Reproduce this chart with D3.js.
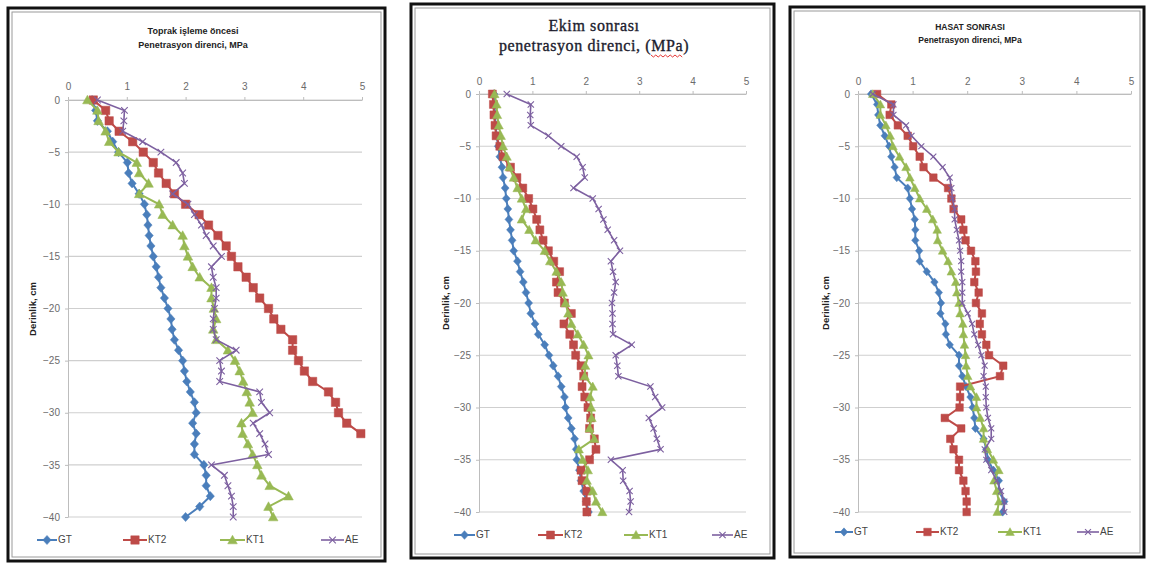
<!DOCTYPE html>
<html><head><meta charset="utf-8">
<script src="https://cdn.jsdelivr.net/npm/d3@7"></script>
<style>body{margin:0;background:#fff}svg{display:block}</style>
</head><body>
<svg id="c" width="1149" height="565"></svg>
<script>
// ---------- DATA ----------
const depths = [0,-1,-2,-3,-4,-5,-6,-7,-8,-9,-10,-11,-12,-13,-14,-15,-16,-17,-18,-19,-20,
  -21,-22,-23,-24,-25,-26,-27,-28,-29,-30,-31,-32,-33,-34,-35,-36,-37,-38,-39,-40];
const xTicks = [0,1,2,3,4,5];
const yTicks = [0,-5,-10,-15,-20,-25,-30,-35,-40];
const seriesNames = ["GT","KT2","KT1","AE"];
const yAxisTitle = "Derinlik, cm";

// Panel 1: Toprak işleme öncesi
const p1Title = ["Toprak işleme öncesi","Penetrasyon direnci, MPa"];
const p1GT  = [0.41,0.47,0.50,0.67,0.76,0.86,1.01,1.03,1.09,1.21,1.30,1.34,1.36,1.38,1.41,1.45,1.50,1.54,1.58,1.64,
  1.70,1.75,1.77,1.81,1.88,1.95,1.98,2.02,2.08,2.15,2.18,2.12,2.18,2.15,2.15,2.31,2.35,2.35,2.42,2.24,2.00];
const p1KT2 = [0.43,0.64,0.70,0.87,1.10,1.28,1.45,1.54,1.67,1.81,2.00,2.23,2.39,2.55,2.69,2.78,2.89,3.03,3.15,3.26,
  3.41,3.50,3.62,3.82,3.82,3.92,4.02,4.16,4.43,4.55,4.60,4.74,4.98];
const p1KT1 = [0.33,0.50,0.52,0.64,0.70,0.86,1.17,1.21,1.37,1.21,1.55,1.61,1.78,1.95,1.98,2.04,2.12,2.24,2.44,2.44,
  2.48,2.52,2.47,2.52,2.72,2.84,2.92,2.98,3.04,3.09,3.14,2.95,2.97,3.06,3.14,3.22,3.29,3.43,3.75,3.41,3.49];
const p1AE  = [0.50,0.96,0.95,0.93,1.27,1.58,1.84,1.95,1.98,1.78,2.04,2.15,2.27,2.35,2.47,2.61,2.44,2.47,2.52,2.52,
  2.49,2.47,2.47,2.52,2.86,2.58,2.61,2.58,3.26,3.29,3.43,3.15,3.26,3.35,3.41,2.44,2.66,2.72,2.78,2.81,2.81];

// Panel 2: Ekim sonrası
const p2Title = ["Ekim sonrası","penetrasyon direnci, (MPa)"];
const p2GT  = [0.28,0.29,0.30,0.31,0.33,0.36,0.39,0.43,0.45,0.49,0.51,0.54,0.56,0.59,0.62,0.65,0.72,0.77,0.83,0.88,
  0.93,0.97,1.05,1.11,1.23,1.31,1.39,1.48,1.54,1.60,1.62,1.67,1.73,1.79,1.82,1.83,1.88,1.91,1.96,2.01,2.05];
const p2KT2 = [0.25,0.27,0.28,0.30,0.32,0.39,0.45,0.59,0.71,0.82,0.93,1.01,1.08,1.14,1.20,1.30,1.40,1.51,1.45,1.48,
  1.60,1.73,1.59,1.70,1.77,1.81,1.91,1.96,1.93,1.98,2.04,2.09,2.07,2.16,2.19,2.07,1.91,1.93,2.02,2.01,2.02];
const p2KT1 = [0.29,0.33,0.34,0.37,0.41,0.45,0.52,0.57,0.65,0.72,0.80,0.88,0.80,0.94,1.06,1.23,1.33,1.45,1.54,1.57,
  1.62,1.67,1.73,1.85,1.96,2.05,1.99,1.98,2.13,2.08,2.10,2.11,2.07,2.16,1.87,1.94,2.04,2.02,2.13,2.19,2.31];
const p2AE  = [0.52,0.97,0.96,0.97,1.30,1.54,1.83,1.94,1.98,1.77,2.13,2.24,2.33,2.41,2.53,2.64,2.47,2.51,2.56,2.53,
  2.49,2.50,2.50,2.51,2.86,2.56,2.59,2.61,3.21,3.30,3.43,3.18,3.27,3.33,3.40,2.47,2.69,2.70,2.82,2.84,2.81];

// Panel 3: Hasat sonrası
const p3Title = ["HASAT SONRASI","Penetrasyon direnci, MPa"];
const p3GT  = [0.24,0.35,0.37,0.41,0.49,0.57,0.61,0.67,0.71,0.91,0.95,0.99,1.04,1.05,1.05,1.12,1.13,1.26,1.40,1.48,
  1.52,1.51,1.60,1.61,1.68,1.85,1.85,1.91,1.98,2.06,2.10,2.13,2.15,2.30,2.35,2.38,2.48,2.58,2.58,2.68,2.65];
const p3KT2 = [0.35,0.61,0.58,0.73,0.91,1.01,1.13,1.20,1.38,1.65,1.71,1.75,1.89,1.93,1.97,2.07,2.15,2.16,2.13,2.21,
  2.16,2.27,2.23,2.27,2.35,2.40,2.66,2.60,1.87,1.87,1.86,1.59,1.89,1.69,1.75,1.85,1.85,1.93,1.97,1.99,1.99];
const p3KT1 = [0.27,0.41,0.41,0.51,0.59,0.64,0.76,0.88,0.95,1.04,1.13,1.26,1.37,1.45,1.46,1.55,1.65,1.71,1.79,1.81,
  1.85,1.87,1.92,1.93,1.95,1.97,1.98,2.01,2.06,2.17,2.17,2.24,2.30,2.30,2.37,2.48,2.58,2.49,2.54,2.58,2.55];
const p3AE  = [0.27,0.65,0.65,0.88,0.98,1.16,1.38,1.55,1.68,1.71,1.73,1.77,1.77,1.81,1.85,1.87,1.89,1.89,1.91,1.91,
  1.91,2.01,2.09,2.13,2.20,2.26,2.32,2.30,2.34,2.34,2.35,2.38,2.44,2.44,2.32,2.35,2.44,2.54,2.62,2.68,2.68];

// ---------- STYLE / LAYOUT ----------
const colors = {GT:"#4a7ebb", KT2:"#be4b48", KT1:"#98b954", AE:"#7d60a0"};
const panels = [
  {frame:[8,8,385,561], x:[68,362], y:[100,517], series:[p1GT,p1KT2,p1KT1,p1AE], title:p1Title,
   titleStyle:"sans", titleY:[34,48], titleX:193, ms:1.0, tickLabY:87, yTitleX:33, yTitleY:309,
   legY:540, legX:[[37,57],[123,147],[220,245],[321,344]]},
  {frame:[411,4,774,558], x:[479,746], y:[94,512], series:[p2GT,p2KT2,p2KT1,p2AE], title:p2Title,
   titleStyle:"serif", titleY:[31,51], titleX:594, ms:0.95, tickLabY:82, yTitleX:446, yTitleY:303,
   legY:535, legX:[[454,475],[538,563],[624,648],[712,733]]},
  {frame:[790,7,1144,557], x:[858,1131], y:[94,512], series:[p3GT,p3KT2,p3KT1,p3AE], title:p3Title,
   titleStyle:"sans", titleY:[30,43], titleX:970, ms:0.9, tickLabY:82, yTitleX:826, yTitleY:303,
   legY:532, legX:[[835,853],[916,939],[998,1022],[1077,1099]]}
];

const svg = d3.select("#c");
const font = "'Liberation Sans', Arial, sans-serif";

function markerPath(name, k){
  if(name==="GT"){const s=4.6*k; return `M0,${-s}L${s*0.9},0L0,${s}L${-s*0.9},0Z`;}
  if(name==="KT2"){const s=4.2*k; return `M${-s},${-s}H${s}V${s}H${-s}Z`;}
  if(name==="KT1"){const s=4.8*k; return `M0,${-s}L${s},${s*0.8}L${-s},${s*0.8}Z`;}
  const s=3.3*k; return `M${-s},${-s}L${s},${s}M${s},${-s}L${-s},${s}`;
}
function drawMarker(g, name, k){
  const p = g.append("path").attr("d", markerPath(name,k));
  if(name==="AE") p.attr("fill","none").attr("stroke",colors.AE).attr("stroke-width",1.1);
  else p.attr("fill",colors[name]).attr("stroke",colors[name]).attr("stroke-width",0.5);
}

panels.forEach(P=>{
  const [fx0,fy0,fx1,fy1]=P.frame;
  svg.append("rect").attr("x",fx0).attr("y",fy0).attr("width",fx1-fx0).attr("height",fy1-fy0)
    .attr("fill","#fff").attr("stroke","#111").attr("stroke-width",3);
  svg.append("rect").attr("x",fx0+4).attr("y",fy0+4).attr("width",fx1-fx0-8).attr("height",fy1-fy0-8)
    .attr("fill","none").attr("stroke","#9a9a9a").attr("stroke-width",1);

  const x = d3.scaleLinear().domain([0,5]).range(P.x);
  const y = d3.scaleLinear().domain([-40,0]).range([P.y[1],P.y[0]]);
  const g = svg.append("g");

  g.append("g").selectAll("line").data(yTicks).join("line")
    .attr("x1",x(0)).attr("x2",x(5)).attr("y1",d=>y(d)).attr("y2",d=>y(d))
    .attr("stroke","#cfcfcf").attr("stroke-width",1.2);

  const ax = g.append("g").attr("transform",`translate(0,${y(0)})`)
    .call(d3.axisTop(x).tickValues(xTicks).tickFormat(d3.format("d")).tickSize(3)
      .tickPadding(P.y[0]-P.tickLabY-6).tickSizeOuter(0));
  ax.select(".domain").attr("stroke","#bdbdbd");
  ax.selectAll(".tick line").attr("stroke","#bdbdbd");
  ax.selectAll("text").attr("fill","#6b6b6b").style("font-family",font).style("font-size","10px");

  const ay = g.append("g").attr("transform",`translate(${x(0)},0)`)
    .call(d3.axisLeft(y).tickValues(yTicks).tickFormat(d3.format("d")).tickSize(3).tickPadding(5).tickSizeOuter(0));
  ay.select(".domain").attr("stroke","#bdbdbd");
  ay.selectAll(".tick line").attr("stroke","#bdbdbd");
  ay.selectAll("text").attr("fill","#6b6b6b").style("font-family",font).style("font-size","10px");

  g.append("text").attr("transform",`translate(${P.yTitleX},${P.yTitleY}) rotate(-90)`)
    .attr("text-anchor","middle").attr("dominant-baseline","middle")
    .style("font-family",font).style("font-size","9.5px").style("font-weight","bold").attr("fill","#222")
    .text(yAxisTitle);

  P.title.forEach((t,i)=>{
    const tx = g.append("text").attr("x",P.titleX).attr("y",P.titleY[i]).attr("text-anchor","middle").text(t);
    if(P.titleStyle==="serif"){
      tx.style("font-family","'Liberation Serif','Times New Roman',serif").style("font-size","16px")
        .style("letter-spacing","0.6px").attr("fill","#1c1c2e").attr("stroke","#1c1c2e").attr("stroke-width",0.35);
    } else {
      tx.style("font-family",font).style("font-size", P===panels[0]?"9px":"8.5px").style("font-weight","bold").attr("fill","#222");
    }
  });
  if(P.titleStyle==="serif"){
    const sx = 651, sy = 55; let d=`M${sx},${sy}`;
    for(let i=1;i<=13;i++) d+=`L${sx+i*2.4},${sy+(i%2?2:0)}`;
    g.append("path").attr("d",d).attr("fill","none").attr("stroke","#e02020").attr("stroke-width",0.9);
  }

  const line = d3.line().x(d=>x(d[0])).y(d=>y(d[1]));
  P.series.forEach((vals,si)=>{
    const name = seriesNames[si];
    const pts = vals.map((v,i)=>[v,depths[i]]);
    g.append("path").datum(pts).attr("d",line).attr("fill","none")
      .attr("stroke",colors[name]).attr("stroke-width",name==="AE"?1.6:2);
    pts.forEach(p=>{
      const mg = g.append("g").attr("transform",`translate(${x(p[0])},${y(p[1])})`);
      drawMarker(mg,name,P.ms);
    });
  });

  seriesNames.forEach((name,i)=>{
    const [lx0,lx1]=P.legX[i];
    g.append("line").attr("x1",lx0).attr("x2",lx1).attr("y1",P.legY).attr("y2",P.legY)
      .attr("stroke",colors[name]).attr("stroke-width",name==="AE"?1.6:2);
    const mg = g.append("g").attr("transform",`translate(${(lx0+lx1)/2},${P.legY})`);
    drawMarker(mg,name,P.ms);
    g.append("text").attr("x",lx1+1).attr("y",P.legY).attr("dominant-baseline","middle")
      .style("font-family",font).style("font-size","10px").attr("fill","#444").text(name);
  });
});
</script>
</body></html>
